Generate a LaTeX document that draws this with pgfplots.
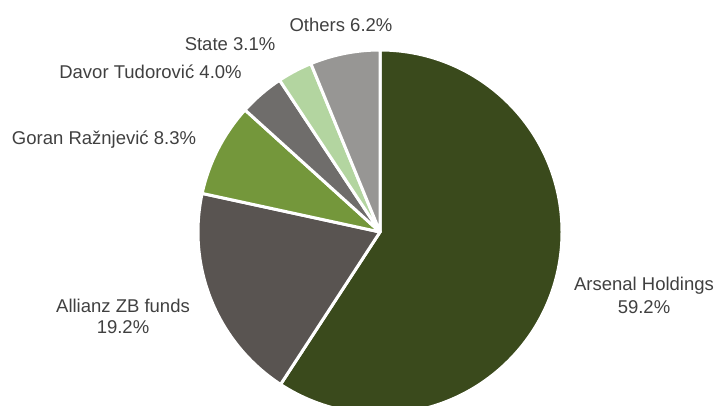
\documentclass[border=0pt]{standalone}
\usepackage{pgfplots}
\pgfplotsset{compat=1.18}
\usepackage{fontspec}
\setmainfont{Liberation Sans}
\definecolor{cA}{HTML}{3A4A1C}
\definecolor{cB}{HTML}{595451}
\definecolor{cC}{HTML}{74973B}
\definecolor{cD}{HTML}{6F6D6B}
\definecolor{cE}{HTML}{B3D5A0}
\definecolor{cF}{HTML}{979694}
\definecolor{txt}{HTML}{404040}
\begin{document}
\begin{tikzpicture}
\useasboundingbox (0,0) rectangle (717pt,405pt);
\clip (0,0) rectangle (717pt,405pt);
\begin{axis}[x=1pt,y=1pt,xmin=0,xmax=717,ymin=0,ymax=405,
  at={(0,0)},anchor=south west,scale only axis,hide axis,clip=false]
\foreach \v/\c [remember=\e as \s (initially 90)] in {59.2/cA,19.2/cB,8.3/cC,4.0/cD,3.1/cE,6.2/cF}{
  \pgfmathsetmacro\e{\s-3.6*\v}
  \edef\temp{\noexpand\fill[fill=\c,draw=white,line width=3pt,line join=round]
    (axis cs:380,173) -- ++(\s:182pt) arc[start angle=\s,end angle=\e,radius=182pt] -- cycle;}
  \temp
}
\begin{scope}[every node/.style={text=txt,font=\fontsize{18.5}{22}\selectfont,anchor=base,inner sep=0pt}]
\node at (axis cs:341,373) {Others 6.2\%};
\node at (axis cs:230,354) {State 3.1\%};
\node at (axis cs:150.5,326) {Davor Tudorović 4.0\%};
\node at (axis cs:104,260) {Goran Ražnjević 8.3\%};
\node at (axis cs:123,93) {Allianz ZB funds};
\node at (axis cs:123,72) {19.2\%};
\node at (axis cs:644,115) {Arsenal Holdings};
\node at (axis cs:644,92) {59.2\%};
\end{scope}
\end{axis}
\end{tikzpicture}
\end{document}
